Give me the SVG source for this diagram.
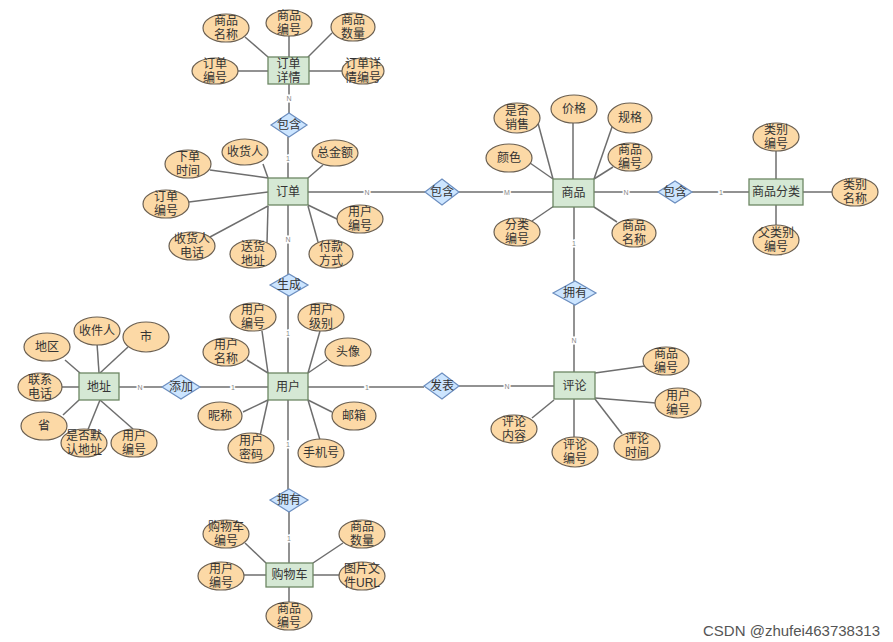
<svg xmlns="http://www.w3.org/2000/svg" width="893" height="642" viewBox="0 0 893 642">
<style>
.bg{fill:#fff}
.ln{stroke:#6e6e6e;stroke-width:1.5;fill:none}
.ent{fill:#d5e8d4;stroke:#6d8764;stroke-width:1.3}
.att{fill:#fcd9a6;stroke:#6b6052;stroke-width:1.2}
.rel{fill:#cce5ff;stroke:#6c8ebf;stroke-width:1.2}
text{font-family:"Liberation Sans","Noto Sans CJK SC",sans-serif;font-size:12px;fill:#333;text-anchor:middle;dominant-baseline:central}
.lbl{font-family:"Liberation Sans",sans-serif;font-size:7px;fill:#888;stroke:#fff;stroke-width:3;paint-order:stroke}
.wm{font-family:"Liberation Sans",sans-serif;font-size:15px;fill:#555;text-anchor:end}
</style>
<rect class="bg" width="893" height="642"/>
<g id="connectors">
<line class="ln" x1="245" y1="37" x2="268" y2="57"/>
<line class="ln" x1="289" y1="36" x2="289" y2="57"/>
<line class="ln" x1="332" y1="33" x2="308" y2="57"/>
<line class="ln" x1="238" y1="71" x2="268" y2="71"/>
<line class="ln" x1="309" y1="71" x2="342" y2="71"/>
<line class="ln" x1="289" y1="84" x2="289" y2="113"/>
<line class="ln" x1="288" y1="137" x2="288" y2="178"/>
<line class="ln" x1="210" y1="170" x2="268" y2="178"/>
<line class="ln" x1="263" y1="164" x2="268" y2="178"/>
<line class="ln" x1="323" y1="165" x2="308" y2="178"/>
<line class="ln" x1="189" y1="202" x2="268" y2="192"/>
<line class="ln" x1="308" y1="205" x2="339" y2="220"/>
<line class="ln" x1="210" y1="237" x2="268" y2="206"/>
<line class="ln" x1="267" y1="243" x2="268" y2="206"/>
<line class="ln" x1="318" y1="242" x2="308" y2="206"/>
<line class="ln" x1="308" y1="192" x2="425" y2="192"/>
<line class="ln" x1="288" y1="205" x2="288" y2="275"/>
<line class="ln" x1="288" y1="295" x2="288" y2="373"/>
<line class="ln" x1="538" y1="123" x2="553" y2="179"/>
<line class="ln" x1="573" y1="123" x2="573" y2="179"/>
<line class="ln" x1="612" y1="127" x2="594" y2="179"/>
<line class="ln" x1="530" y1="163" x2="553" y2="179"/>
<line class="ln" x1="613" y1="167" x2="594" y2="179"/>
<line class="ln" x1="532" y1="221" x2="554" y2="206"/>
<line class="ln" x1="617" y1="222" x2="594" y2="207"/>
<line class="ln" x1="459" y1="192" x2="553" y2="192"/>
<line class="ln" x1="594" y1="192" x2="658" y2="192"/>
<line class="ln" x1="692" y1="192" x2="749" y2="192"/>
<line class="ln" x1="574" y1="207" x2="574" y2="281"/>
<line class="ln" x1="574" y1="305" x2="574" y2="372"/>
<line class="ln" x1="776" y1="150" x2="776" y2="179"/>
<line class="ln" x1="776" y1="205" x2="776" y2="226"/>
<line class="ln" x1="803" y1="192" x2="832" y2="192"/>
<line class="ln" x1="65" y1="360" x2="80" y2="373"/>
<line class="ln" x1="97" y1="343" x2="99" y2="373"/>
<line class="ln" x1="128" y1="347" x2="100" y2="373"/>
<line class="ln" x1="62" y1="387" x2="79" y2="387"/>
<line class="ln" x1="63" y1="415" x2="79" y2="400"/>
<line class="ln" x1="87" y1="432" x2="100" y2="400"/>
<line class="ln" x1="133" y1="429" x2="100" y2="400"/>
<line class="ln" x1="119" y1="387" x2="162" y2="387"/>
<line class="ln" x1="200" y1="387" x2="268" y2="387"/>
<line class="ln" x1="262" y1="331" x2="268" y2="373"/>
<line class="ln" x1="320" y1="331" x2="308" y2="373"/>
<line class="ln" x1="247" y1="360" x2="268" y2="373"/>
<line class="ln" x1="327" y1="360" x2="308" y2="373"/>
<line class="ln" x1="243" y1="412" x2="268" y2="400"/>
<line class="ln" x1="332" y1="412" x2="308" y2="400"/>
<line class="ln" x1="260" y1="436" x2="268" y2="400"/>
<line class="ln" x1="320" y1="440" x2="308" y2="400"/>
<line class="ln" x1="308" y1="387" x2="424" y2="387"/>
<line class="ln" x1="459" y1="386" x2="554" y2="386"/>
<line class="ln" x1="288" y1="400" x2="288" y2="489"/>
<line class="ln" x1="289" y1="512" x2="289" y2="563"/>
<line class="ln" x1="595" y1="373" x2="645" y2="366"/>
<line class="ln" x1="595" y1="398" x2="656" y2="403"/>
<line class="ln" x1="532" y1="418" x2="554" y2="400"/>
<line class="ln" x1="574" y1="399" x2="574" y2="438"/>
<line class="ln" x1="595" y1="399" x2="622" y2="434"/>
<line class="ln" x1="245" y1="543" x2="266" y2="563"/>
<line class="ln" x1="244" y1="575" x2="266" y2="575"/>
<line class="ln" x1="343" y1="543" x2="313" y2="563"/>
<line class="ln" x1="313" y1="575" x2="340" y2="575"/>
<line class="ln" x1="289" y1="587" x2="289" y2="603"/>
<text class="lbl" x="289" y="98">N</text>
<text class="lbl" x="288" y="158">1</text>
<text class="lbl" x="367" y="192">N</text>
<text class="lbl" x="288" y="239">N</text>
<text class="lbl" x="288" y="333">1</text>
<text class="lbl" x="507" y="192">M</text>
<text class="lbl" x="626" y="192">N</text>
<text class="lbl" x="721" y="192">1</text>
<text class="lbl" x="574" y="243">1</text>
<text class="lbl" x="574" y="340">N</text>
<text class="lbl" x="140" y="387">N</text>
<text class="lbl" x="233" y="387">1</text>
<text class="lbl" x="367" y="387">1</text>
<text class="lbl" x="507" y="386">N</text>
<text class="lbl" x="288" y="444">1</text>
<text class="lbl" x="289" y="538">1</text>
</g>

<g id="e-orderdetail"><rect class="ent" x="268" y="57" width="41" height="27"/><text><tspan x="288.5" y="63.5">订单</tspan><tspan x="288.5" y="77.5">详情</tspan></text></g>
<g id="e-order"><rect class="ent" x="268" y="178" width="40" height="27"/><text x="288" y="191.5">订单</text></g>
<g id="e-product"><rect class="ent" x="553" y="179" width="41" height="28"/><text x="573.5" y="193">商品</text></g>
<g id="e-category"><rect class="ent" x="749" y="179" width="54" height="26"/><text x="776" y="192">商品分类</text></g>
<g id="e-address"><rect class="ent" x="79" y="373" width="40" height="27"/><text x="99" y="386.5">地址</text></g>
<g id="e-user"><rect class="ent" x="268" y="373" width="40" height="27"/><text x="288" y="386.5">用户</text></g>
<g id="e-comment"><rect class="ent" x="554" y="372" width="41" height="27"/><text x="574.5" y="385.5">评论</text></g>
<g id="e-cart"><rect class="ent" x="266" y="563" width="47" height="24"/><text x="289.5" y="575">购物车</text></g>

<g id="r-contain1"><polygon class="rel" points="271,125 289,113 307,125 289,137"/><text x="289" y="125">包含</text></g>
<g id="r-contain2"><polygon class="rel" points="425,192 442,179 459,192 442,205"/><text x="442" y="192">包含</text></g>
<g id="r-contain3"><polygon class="rel" points="658,192 675,181 692,192 675,203"/><text x="675" y="192">包含</text></g>
<g id="r-generate"><polygon class="rel" points="270,285 289,274 308,285 289,296"/><text x="289" y="285">生成</text></g>
<g id="r-own1"><polygon class="rel" points="553,293 575,281 596,293 575,305"/><text x="575" y="293">拥有</text></g>
<g id="r-add"><polygon class="rel" points="162,387 181,375 200,387 181,399"/><text x="181" y="387">添加</text></g>
<g id="r-post"><polygon class="rel" points="424,386 442,373 459,386 442,399"/><text x="442" y="386">发表</text></g>
<g id="r-own2"><polygon class="rel" points="270,500 289,489 308,500 289,512"/><text x="289" y="500">拥有</text></g>

<g id="a-od-pname"><ellipse class="att" cx="226" cy="28" rx="23" ry="14"/><text><tspan x="226" y="21">商品</tspan><tspan x="226" y="35">名称</tspan></text></g>
<g id="a-od-pid"><ellipse class="att" cx="289" cy="23" rx="23" ry="13"/><text><tspan x="289" y="16">商品</tspan><tspan x="289" y="30">编号</tspan></text></g>
<g id="a-od-qty"><ellipse class="att" cx="353" cy="27" rx="22" ry="14"/><text><tspan x="353" y="20">商品</tspan><tspan x="353" y="34">数量</tspan></text></g>
<g id="a-od-oid"><ellipse class="att" cx="215" cy="71" rx="23" ry="13"/><text><tspan x="215" y="64">订单</tspan><tspan x="215" y="78">编号</tspan></text></g>
<g id="a-od-did"><ellipse class="att" cx="363" cy="71" rx="21" ry="13"/><text><tspan x="363" y="64">订单详</tspan><tspan x="363" y="78">情编号</tspan></text></g>

<g id="a-o-time"><ellipse class="att" cx="188" cy="164" rx="23" ry="14"/><text><tspan x="188" y="157">下单</tspan><tspan x="188" y="171">时间</tspan></text></g>
<g id="a-o-recv"><ellipse class="att" cx="245" cy="152" rx="23" ry="13"/><text x="245" y="152">收货人</text></g>
<g id="a-o-total"><ellipse class="att" cx="335" cy="153" rx="23" ry="13"/><text x="335" y="153">总金额</text></g>
<g id="a-o-oid"><ellipse class="att" cx="166" cy="204" rx="23" ry="14"/><text><tspan x="166" y="197">订单</tspan><tspan x="166" y="211">编号</tspan></text></g>
<g id="a-o-uid"><ellipse class="att" cx="360" cy="219" rx="23" ry="14"/><text><tspan x="360" y="212">用户</tspan><tspan x="360" y="226">编号</tspan></text></g>
<g id="a-o-phone"><ellipse class="att" cx="192" cy="246" rx="23" ry="14"/><text><tspan x="192" y="239">收货人</tspan><tspan x="192" y="253">电话</tspan></text></g>
<g id="a-o-addr"><ellipse class="att" cx="253" cy="254" rx="23" ry="14"/><text><tspan x="253" y="247">送货</tspan><tspan x="253" y="261">地址</tspan></text></g>
<g id="a-o-pay"><ellipse class="att" cx="331" cy="254" rx="22" ry="14"/><text><tspan x="331" y="247">付款</tspan><tspan x="331" y="261">方式</tspan></text></g>

<g id="a-p-sale"><ellipse class="att" cx="517" cy="118" rx="23" ry="15"/><text><tspan x="517" y="111">是否</tspan><tspan x="517" y="125">销售</tspan></text></g>
<g id="a-p-price"><ellipse class="att" cx="574" cy="109" rx="23" ry="14"/><text x="574" y="109">价格</text></g>
<g id="a-p-spec"><ellipse class="att" cx="630" cy="118" rx="22" ry="15"/><text x="630" y="118">规格</text></g>
<g id="a-p-color"><ellipse class="att" cx="509" cy="158" rx="23" ry="14"/><text x="509" y="158">颜色</text></g>
<g id="a-p-pid"><ellipse class="att" cx="630" cy="157" rx="22" ry="14"/><text><tspan x="630" y="150">商品</tspan><tspan x="630" y="164">编号</tspan></text></g>
<g id="a-p-cid"><ellipse class="att" cx="517" cy="232" rx="23" ry="14"/><text><tspan x="517" y="225">分类</tspan><tspan x="517" y="239">编号</tspan></text></g>
<g id="a-p-name"><ellipse class="att" cx="634" cy="233" rx="22" ry="14"/><text><tspan x="634" y="226">商品</tspan><tspan x="634" y="240">名称</tspan></text></g>

<g id="a-c-id"><ellipse class="att" cx="776" cy="137" rx="23" ry="14"/><text><tspan x="776" y="130">类别</tspan><tspan x="776" y="144">编号</tspan></text></g>
<g id="a-c-name"><ellipse class="att" cx="855" cy="192" rx="23" ry="14"/><text><tspan x="855" y="185">类别</tspan><tspan x="855" y="199">名称</tspan></text></g>
<g id="a-c-pid"><ellipse class="att" cx="776" cy="240" rx="23" ry="15"/><text><tspan x="776" y="233">父类别</tspan><tspan x="776" y="247">编号</tspan></text></g>

<g id="a-a-region"><ellipse class="att" cx="47" cy="347" rx="23" ry="14"/><text x="47" y="347">地区</text></g>
<g id="a-a-recv"><ellipse class="att" cx="97" cy="331" rx="23" ry="14"/><text x="97" y="331">收件人</text></g>
<g id="a-a-city"><ellipse class="att" cx="146" cy="337" rx="23" ry="15"/><text x="146" y="337">市</text></g>
<g id="a-a-phone"><ellipse class="att" cx="40" cy="387" rx="22" ry="14"/><text><tspan x="40" y="380">联系</tspan><tspan x="40" y="394">电话</tspan></text></g>
<g id="a-a-prov"><ellipse class="att" cx="44" cy="426" rx="23" ry="14"/><text x="44" y="426">省</text></g>
<g id="a-a-default"><ellipse class="att" cx="84" cy="443" rx="23" ry="14"/><text><tspan x="84" y="436">是否默</tspan><tspan x="84" y="450">认地址</tspan></text></g>
<g id="a-a-uid"><ellipse class="att" cx="134" cy="443" rx="23" ry="14"/><text><tspan x="134" y="436">用户</tspan><tspan x="134" y="450">编号</tspan></text></g>

<g id="a-u-id"><ellipse class="att" cx="253" cy="317" rx="23" ry="14"/><text><tspan x="253" y="310">用户</tspan><tspan x="253" y="324">编号</tspan></text></g>
<g id="a-u-level"><ellipse class="att" cx="321" cy="317" rx="23" ry="14"/><text><tspan x="321" y="310">用户</tspan><tspan x="321" y="324">级别</tspan></text></g>
<g id="a-u-name"><ellipse class="att" cx="226" cy="352" rx="23" ry="14"/><text><tspan x="226" y="345">用户</tspan><tspan x="226" y="359">名称</tspan></text></g>
<g id="a-u-avatar"><ellipse class="att" cx="348" cy="352" rx="23" ry="14"/><text x="348" y="352">头像</text></g>
<g id="a-u-nick"><ellipse class="att" cx="220" cy="416" rx="22" ry="14"/><text x="220" y="416">昵称</text></g>
<g id="a-u-mail"><ellipse class="att" cx="354" cy="416" rx="22" ry="14"/><text x="354" y="416">邮箱</text></g>
<g id="a-u-pwd"><ellipse class="att" cx="251" cy="448" rx="23" ry="15"/><text><tspan x="251" y="441">用户</tspan><tspan x="251" y="455">密码</tspan></text></g>
<g id="a-u-phone"><ellipse class="att" cx="321" cy="453" rx="23" ry="14"/><text x="321" y="453">手机号</text></g>

<g id="a-cm-pid"><ellipse class="att" cx="666" cy="361" rx="23" ry="14"/><text><tspan x="666" y="354">商品</tspan><tspan x="666" y="368">编号</tspan></text></g>
<g id="a-cm-uid"><ellipse class="att" cx="678" cy="403" rx="23" ry="15"/><text><tspan x="678" y="396">用户</tspan><tspan x="678" y="410">编号</tspan></text></g>
<g id="a-cm-content"><ellipse class="att" cx="514" cy="429" rx="23" ry="14"/><text><tspan x="514" y="422">评论</tspan><tspan x="514" y="436">内容</tspan></text></g>
<g id="a-cm-id"><ellipse class="att" cx="575" cy="452" rx="23" ry="15"/><text><tspan x="575" y="445">评论</tspan><tspan x="575" y="459">编号</tspan></text></g>
<g id="a-cm-time"><ellipse class="att" cx="637" cy="446" rx="23" ry="14"/><text><tspan x="637" y="439">评论</tspan><tspan x="637" y="453">时间</tspan></text></g>

<g id="a-ct-id"><ellipse class="att" cx="226" cy="534" rx="23" ry="14"/><text><tspan x="226" y="527">购物车</tspan><tspan x="226" y="541">编号</tspan></text></g>
<g id="a-ct-uid"><ellipse class="att" cx="221" cy="576" rx="23" ry="14"/><text><tspan x="221" y="569">用户</tspan><tspan x="221" y="583">编号</tspan></text></g>
<g id="a-ct-qty"><ellipse class="att" cx="362" cy="534" rx="23" ry="14"/><text><tspan x="362" y="527">商品</tspan><tspan x="362" y="541">数量</tspan></text></g>
<g id="a-ct-img"><ellipse class="att" cx="362" cy="576" rx="23" ry="14"/><text><tspan x="362" y="569">图片文</tspan><tspan x="362" y="583">件URL</tspan></text></g>
<g id="a-ct-pid"><ellipse class="att" cx="289" cy="616" rx="23" ry="14"/><text><tspan x="289" y="609">商品</tspan><tspan x="289" y="623">编号</tspan></text></g>

<text class="wm" x="880" y="630">CSDN @zhufei463738313</text>
</svg>
